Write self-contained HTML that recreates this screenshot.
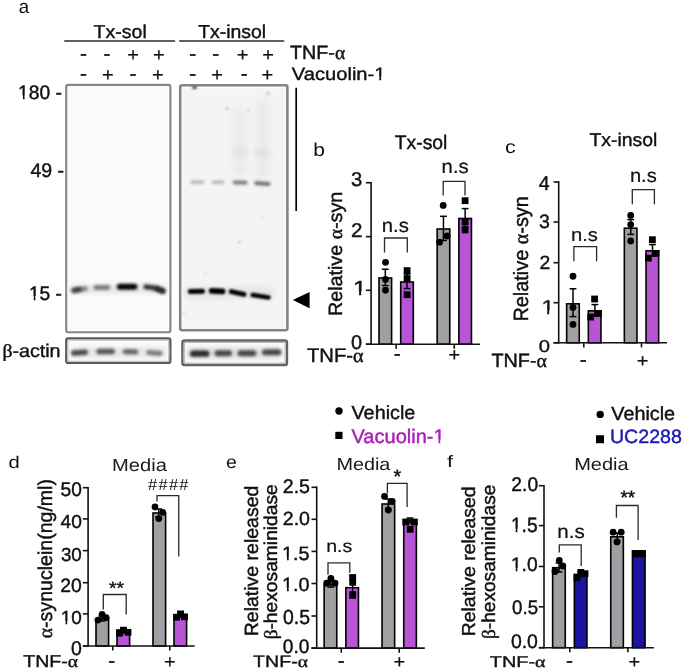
<!DOCTYPE html>
<html><head><meta charset="utf-8"><title>Figure</title>
<style>
html,body{margin:0;padding:0;background:#fff;}
svg{display:block;}
text{font-family:"Liberation Sans",Arial,sans-serif;text-rendering:geometricPrecision;}
</style></head>
<body>
<svg width="685" height="672" viewBox="0 0 685 672">
<rect width="685" height="672" fill="#fff"/>
<line x1="64.30" y1="41.00" x2="175.10" y2="41.00" stroke="#2a2a2a" stroke-width="1.70"/>
<line x1="179.30" y1="41.00" x2="284.20" y2="41.00" stroke="#2a2a2a" stroke-width="1.70"/>

<defs>
<filter id="bl1" filterUnits="userSpaceOnUse" x="0" y="0" width="685" height="672"><feGaussianBlur stdDeviation="1.1"/></filter>
<filter id="bl15" filterUnits="userSpaceOnUse" x="0" y="0" width="685" height="672"><feGaussianBlur stdDeviation="1.5"/></filter>
<filter id="bl17" filterUnits="userSpaceOnUse" x="0" y="0" width="685" height="672"><feGaussianBlur stdDeviation="1.7"/></filter>
<filter id="bl2" filterUnits="userSpaceOnUse" x="0" y="0" width="685" height="672"><feGaussianBlur stdDeviation="2.5"/></filter>
<filter id="bl3" filterUnits="userSpaceOnUse" x="0" y="0" width="685" height="672"><feGaussianBlur stdDeviation="4"/></filter>
</defs>
<rect x="66.2" y="84.9" width="104.2" height="247.3" rx="2" fill="#fbfbfb" stroke="#858585" stroke-width="2.1"/>
<rect x="180.2" y="85.3" width="107.2" height="245.0" rx="2" fill="#f4f4f4" stroke="#858585" stroke-width="2.6"/>
<rect x="182.6" y="87.7" width="102.4" height="240.2" fill="none" stroke="#fbfbfb" stroke-width="1.4"/>
<rect x="66.2" y="338.4" width="104.2" height="24.6" rx="2" fill="#fcfcfc" stroke="#5a5a5a" stroke-width="2.2"/>
<rect x="67.9" y="340.1" width="100.8" height="21.2" fill="none" stroke="#b5b5b5" stroke-width="1"/>
<rect x="182.4" y="340.5" width="104.6" height="24.5" rx="2" fill="#fcfcfc" stroke="#636363" stroke-width="2.4"/>
<rect x="184.3" y="342.4" width="100.8" height="20.7" fill="none" stroke="#b0b0b0" stroke-width="1"/>

<rect x="69.0" y="284.5" width="99.0" height="9.0" rx="4.5" fill="#e6e6e6" fill-opacity="1.00" filter="url(#bl2)"/>
<path d="M73.6 290.6 Q79.5 289.6 85.4 288.6" fill="none" stroke="#8a8a8a" stroke-opacity="1.00" stroke-width="5.2" stroke-linecap="round" filter="url(#bl15)"/>
<path d="M74.2 290.2 Q77.0 289.8 79.8 289.4" fill="none" stroke="#3a3a3a" stroke-opacity="1.00" stroke-width="4.4" stroke-linecap="round" filter="url(#bl15)"/>
<path d="M95.9 287.6 Q101.9 287.5 107.9 287.4" fill="none" stroke="#7c7c7c" stroke-opacity="1.00" stroke-width="5.0" stroke-linecap="round" filter="url(#bl15)"/>
<path d="M119.8 286.8 Q127.1 286.8 134.4 286.8" fill="none" stroke="#000" stroke-opacity="1.00" stroke-width="6.0" stroke-linecap="round" filter="url(#bl15)"/>
<path d="M145.9 286.8 Q154.3 287.3 162.7 291.0" fill="none" stroke="#333" stroke-opacity="1.00" stroke-width="5.0" stroke-linecap="round" filter="url(#bl15)"/>
<path d="M157.3 288.5 Q160.1 289.8 162.9 291.0" fill="none" stroke="#2a2a2a" stroke-opacity="1.00" stroke-width="4.6" stroke-linecap="round" filter="url(#bl15)"/>
<rect x="184.0" y="287.5" width="91.0" height="11.0" rx="5.5" fill="#e3e3e3" fill-opacity="1.00" filter="url(#bl2)"/>
<path d="M190.3 291.6 Q196.4 291.4 202.5 291.2" fill="none" stroke="#000" stroke-opacity="1.00" stroke-width="5.0" stroke-linecap="round" filter="url(#bl1)"/>
<path d="M211.6 290.9 Q217.1 291.1 222.6 291.4" fill="none" stroke="#000" stroke-opacity="1.00" stroke-width="5.6" stroke-linecap="round" filter="url(#bl1)"/>
<path d="M231.3 291.6 Q237.6 293.0 243.9 294.4" fill="none" stroke="#000" stroke-opacity="1.00" stroke-width="5.0" stroke-linecap="round" filter="url(#bl1)"/>
<path d="M252.7 295.0 Q260.6 296.2 268.5 297.4" fill="none" stroke="#000" stroke-opacity="1.00" stroke-width="4.6" stroke-linecap="round" filter="url(#bl1)"/>
<path d="M192.0 182.1 Q197.4 182.1 202.9 182.1" fill="none" stroke="#b0b0b0" stroke-opacity="1.00" stroke-width="3.4" stroke-linecap="round" filter="url(#bl15)"/>
<path d="M213.4 182.1 Q218.1 182.1 222.9 182.1" fill="none" stroke="#b0b0b0" stroke-opacity="1.00" stroke-width="3.4" stroke-linecap="round" filter="url(#bl15)"/>
<path d="M234.4 182.4 Q240.1 182.5 245.8 182.6" fill="none" stroke="#707070" stroke-opacity="1.00" stroke-width="3.6" stroke-linecap="round" filter="url(#bl15)"/>
<path d="M256.3 183.0 Q262.5 183.4 268.6 183.8" fill="none" stroke="#5c5c5c" stroke-opacity="1.00" stroke-width="3.8" stroke-linecap="round" filter="url(#bl15)"/>
<rect x="234" y="110" width="12" height="65" fill="#e9e9e9" filter="url(#bl3)"/>
<rect x="256" y="100" width="13" height="78" fill="#e8e8e8" filter="url(#bl3)"/>
<path d="M235.0 152.0 Q240.0 152.0 245.0 152.0" fill="none" stroke="#dcdcdc" stroke-opacity="1.00" stroke-width="4.0" stroke-linecap="round" filter="url(#bl2)"/>
<path d="M257.0 153.0 Q262.5 153.0 268.0 153.0" fill="none" stroke="#d8d8d8" stroke-opacity="1.00" stroke-width="4.0" stroke-linecap="round" filter="url(#bl2)"/>
<circle cx="227.0" cy="108.7" r="1.6" fill="#c8c8c8" filter="url(#bl1)"/>
<circle cx="248.4" cy="110.8" r="1.5" fill="#d0d0d0" filter="url(#bl1)"/>
<circle cx="267.8" cy="93.4" r="2.0" fill="#cfcfcf" filter="url(#bl1)"/>
<circle cx="239.3" cy="242.3" r="1.4" fill="#c8c8c8" filter="url(#bl1)"/>
<circle cx="205.4" cy="274.3" r="1.2" fill="#d8d8d8" filter="url(#bl1)"/>
<circle cx="183.5" cy="313.0" r="1.2" fill="#d0d0d0" filter="url(#bl1)"/>
<circle cx="262.0" cy="218.0" r="1.3" fill="#dcdcdc" filter="url(#bl1)"/>
<ellipse cx="194.5" cy="87.6" rx="2.6" ry="1.4" fill="#333" filter="url(#bl1)"/>
<rect x="70.0" y="346.8" width="97.0" height="11.0" rx="5.5" fill="#e6e6e6" fill-opacity="1.00" filter="url(#bl2)"/>
<path d="M73.7 353.0 Q79.5 352.6 85.3 352.2" fill="none" stroke="#4a4a4a" stroke-opacity="1.00" stroke-width="5.4" stroke-linecap="round" filter="url(#bl17)"/>
<path d="M99.2 351.5 Q105.7 351.5 112.2 351.5" fill="none" stroke="#555" stroke-opacity="1.00" stroke-width="5.6" stroke-linecap="round" filter="url(#bl17)"/>
<path d="M125.3 351.6 Q130.5 351.7 135.7 351.8" fill="none" stroke="#666" stroke-opacity="1.00" stroke-width="5.2" stroke-linecap="round" filter="url(#bl17)"/>
<path d="M148.9 352.4 Q154.4 353.0 160.0 353.6" fill="none" stroke="#7a7a7a" stroke-opacity="1.00" stroke-width="5.0" stroke-linecap="round" filter="url(#bl17)"/>
<rect x="186.0" y="347.0" width="97.0" height="12.0" rx="6.0" fill="#e0e0e0" fill-opacity="1.00" filter="url(#bl2)"/>
<path d="M193.1 353.7 Q199.7 353.7 206.3 353.7" fill="none" stroke="#262626" stroke-opacity="1.00" stroke-width="6.2" stroke-linecap="round" filter="url(#bl17)"/>
<path d="M217.6 353.2 Q223.3 353.2 229.0 353.2" fill="none" stroke="#474747" stroke-opacity="1.00" stroke-width="6.0" stroke-linecap="round" filter="url(#bl17)"/>
<path d="M240.5 353.2 Q246.9 353.2 253.4 353.2" fill="none" stroke="#474747" stroke-opacity="1.00" stroke-width="6.0" stroke-linecap="round" filter="url(#bl17)"/>
<path d="M265.0 352.3 Q271.7 352.3 278.4 352.3" fill="none" stroke="#474747" stroke-opacity="1.00" stroke-width="6.0" stroke-linecap="round" filter="url(#bl17)"/>
<line x1="296.20" y1="87.80" x2="296.20" y2="211.00" stroke="#000" stroke-width="1.70"/>
<polygon points="292.8,300.1 309.6,291.9 309.6,308.3" fill="#000"/>
<rect x="379.00" y="278.00" width="12.6" height="66.20" fill="#a19fa4" stroke="#000" stroke-width="1.6"/>
<rect x="400.70" y="282.00" width="12.6" height="62.20" fill="#b854d6" stroke="#000" stroke-width="1.6"/>
<rect x="437.15" y="229.00" width="12.6" height="115.20" fill="#a19fa4" stroke="#000" stroke-width="1.6"/>
<rect x="458.85" y="218.50" width="12.6" height="125.70" fill="#b854d6" stroke="#000" stroke-width="1.6"/>
<line x1="385.30" y1="269.20" x2="385.30" y2="285.60" stroke="#000" stroke-width="1.50"/>
<line x1="381.90" y1="269.20" x2="388.70" y2="269.20" stroke="#000" stroke-width="1.50"/>
<line x1="381.90" y1="285.60" x2="388.70" y2="285.60" stroke="#000" stroke-width="1.50"/>
<line x1="407.00" y1="274.00" x2="407.00" y2="288.60" stroke="#000" stroke-width="1.50"/>
<line x1="403.60" y1="274.00" x2="410.40" y2="274.00" stroke="#000" stroke-width="1.50"/>
<line x1="403.60" y1="288.60" x2="410.40" y2="288.60" stroke="#000" stroke-width="1.50"/>
<line x1="443.45" y1="216.30" x2="443.45" y2="240.50" stroke="#000" stroke-width="1.50"/>
<line x1="440.05" y1="216.30" x2="446.85" y2="216.30" stroke="#000" stroke-width="1.50"/>
<line x1="440.05" y1="240.50" x2="446.85" y2="240.50" stroke="#000" stroke-width="1.50"/>
<line x1="465.15" y1="208.60" x2="465.15" y2="227.00" stroke="#000" stroke-width="1.50"/>
<line x1="461.75" y1="208.60" x2="468.55" y2="208.60" stroke="#000" stroke-width="1.50"/>
<line x1="461.75" y1="227.00" x2="468.55" y2="227.00" stroke="#000" stroke-width="1.50"/>
<circle cx="385.50" cy="262.30" r="3.4" fill="#000"/>
<circle cx="385.50" cy="279.40" r="3.4" fill="#000"/>
<circle cx="385.50" cy="290.20" r="3.4" fill="#000"/>
<circle cx="443.20" cy="205.40" r="3.4" fill="#000"/>
<circle cx="447.10" cy="236.00" r="3.4" fill="#000"/>
<circle cx="439.60" cy="242.20" r="3.4" fill="#000"/>
<rect x="403.70" y="267.20" width="6.8" height="6.8" fill="#000"/>
<rect x="403.70" y="275.10" width="6.8" height="6.8" fill="#000"/>
<rect x="403.70" y="291.30" width="6.8" height="6.8" fill="#000"/>
<rect x="461.70" y="197.30" width="6.8" height="6.8" fill="#000"/>
<rect x="461.70" y="218.50" width="6.8" height="6.8" fill="#000"/>
<rect x="461.70" y="226.50" width="6.8" height="6.8" fill="#000"/>
<line x1="371.10" y1="181.90" x2="371.10" y2="345.00" stroke="#111" stroke-width="1.60"/>
<line x1="365.90" y1="344.20" x2="480.00" y2="344.20" stroke="#111" stroke-width="1.60"/>
<line x1="365.90" y1="182.70" x2="371.10" y2="182.70" stroke="#111" stroke-width="1.60"/>
<line x1="365.90" y1="236.65" x2="371.10" y2="236.65" stroke="#111" stroke-width="1.60"/>
<line x1="365.90" y1="290.30" x2="371.10" y2="290.30" stroke="#111" stroke-width="1.60"/>
<line x1="365.90" y1="344.20" x2="371.10" y2="344.20" stroke="#111" stroke-width="1.60"/>
<line x1="396.15" y1="344.20" x2="396.15" y2="348.80" stroke="#111" stroke-width="1.60"/>
<line x1="454.30" y1="344.20" x2="454.30" y2="348.80" stroke="#111" stroke-width="1.60"/>
<path d="M384.50 252.50 V238.00 H407.30 V252.50" fill="none" stroke="#2a2a2a" stroke-width="1.3"/>
<path d="M443.20 195.50 V181.40 H465.00 V195.50" fill="none" stroke="#2a2a2a" stroke-width="1.3"/>
<rect x="566.65" y="303.80" width="12.6" height="39.00" fill="#a19fa4" stroke="#000" stroke-width="1.6"/>
<rect x="588.35" y="310.80" width="12.6" height="32.00" fill="#b854d6" stroke="#000" stroke-width="1.6"/>
<rect x="624.35" y="228.20" width="12.6" height="114.60" fill="#a19fa4" stroke="#000" stroke-width="1.6"/>
<rect x="646.05" y="250.80" width="12.6" height="92.00" fill="#b854d6" stroke="#000" stroke-width="1.6"/>
<line x1="573.00" y1="288.75" x2="573.00" y2="316.60" stroke="#000" stroke-width="1.50"/>
<line x1="569.60" y1="288.75" x2="576.40" y2="288.75" stroke="#000" stroke-width="1.50"/>
<line x1="569.60" y1="316.60" x2="576.40" y2="316.60" stroke="#000" stroke-width="1.50"/>
<line x1="594.90" y1="304.60" x2="594.90" y2="316.00" stroke="#000" stroke-width="1.50"/>
<line x1="591.50" y1="304.60" x2="598.30" y2="304.60" stroke="#000" stroke-width="1.50"/>
<line x1="591.50" y1="316.00" x2="598.30" y2="316.00" stroke="#000" stroke-width="1.50"/>
<line x1="630.75" y1="219.60" x2="630.75" y2="234.40" stroke="#000" stroke-width="1.50"/>
<line x1="627.35" y1="219.60" x2="634.15" y2="219.60" stroke="#000" stroke-width="1.50"/>
<line x1="627.35" y1="234.40" x2="634.15" y2="234.40" stroke="#000" stroke-width="1.50"/>
<line x1="652.50" y1="244.60" x2="652.50" y2="256.00" stroke="#000" stroke-width="1.50"/>
<line x1="649.10" y1="244.60" x2="655.90" y2="244.60" stroke="#000" stroke-width="1.50"/>
<line x1="649.10" y1="256.00" x2="655.90" y2="256.00" stroke="#000" stroke-width="1.50"/>
<circle cx="573.00" cy="276.25" r="3.4" fill="#000"/>
<circle cx="573.00" cy="307.50" r="3.4" fill="#000"/>
<circle cx="573.00" cy="324.40" r="3.4" fill="#000"/>
<circle cx="630.70" cy="215.40" r="3.4" fill="#000"/>
<circle cx="630.70" cy="224.60" r="3.4" fill="#000"/>
<circle cx="630.70" cy="240.90" r="3.4" fill="#000"/>
<rect x="591.20" y="295.60" width="6.8" height="6.8" fill="#000"/>
<rect x="587.30" y="313.70" width="6.8" height="6.8" fill="#000"/>
<rect x="595.10" y="310.00" width="6.8" height="6.8" fill="#000"/>
<rect x="649.00" y="236.30" width="6.8" height="6.8" fill="#000"/>
<rect x="645.00" y="254.70" width="6.8" height="6.8" fill="#000"/>
<rect x="652.60" y="250.00" width="6.8" height="6.8" fill="#000"/>
<line x1="558.70" y1="181.20" x2="558.70" y2="343.60" stroke="#111" stroke-width="1.60"/>
<line x1="553.50" y1="342.80" x2="667.00" y2="342.80" stroke="#111" stroke-width="1.60"/>
<line x1="553.50" y1="182.00" x2="558.70" y2="182.00" stroke="#111" stroke-width="1.60"/>
<line x1="553.50" y1="222.05" x2="558.70" y2="222.05" stroke="#111" stroke-width="1.60"/>
<line x1="553.50" y1="262.70" x2="558.70" y2="262.70" stroke="#111" stroke-width="1.60"/>
<line x1="553.50" y1="302.70" x2="558.70" y2="302.70" stroke="#111" stroke-width="1.60"/>
<line x1="553.50" y1="342.80" x2="558.70" y2="342.80" stroke="#111" stroke-width="1.60"/>
<line x1="583.80" y1="342.80" x2="583.80" y2="347.40" stroke="#111" stroke-width="1.60"/>
<line x1="641.50" y1="342.80" x2="641.50" y2="347.40" stroke="#111" stroke-width="1.60"/>
<path d="M573.90 261.30 V246.60 H596.60 V261.30" fill="none" stroke="#2a2a2a" stroke-width="1.3"/>
<path d="M632.30 204.30 V189.70 H654.40 V204.30" fill="none" stroke="#2a2a2a" stroke-width="1.3"/>
<rect x="96.00" y="618.80" width="12.6" height="27.20" fill="#a19fa4" stroke="#000" stroke-width="1.6"/>
<rect x="117.00" y="630.00" width="12.6" height="16.00" fill="#b854d6" stroke="#000" stroke-width="1.6"/>
<rect x="153.00" y="513.00" width="12.6" height="133.00" fill="#a19fa4" stroke="#000" stroke-width="1.6"/>
<rect x="174.00" y="615.00" width="12.6" height="31.00" fill="#b854d6" stroke="#000" stroke-width="1.6"/>
<line x1="102.00" y1="616.00" x2="102.00" y2="621.00" stroke="#000" stroke-width="1.50"/>
<line x1="98.60" y1="616.00" x2="105.40" y2="616.00" stroke="#000" stroke-width="1.50"/>
<line x1="98.60" y1="621.00" x2="105.40" y2="621.00" stroke="#000" stroke-width="1.50"/>
<line x1="123.40" y1="627.50" x2="123.40" y2="632.00" stroke="#000" stroke-width="1.50"/>
<line x1="120.00" y1="627.50" x2="126.80" y2="627.50" stroke="#000" stroke-width="1.50"/>
<line x1="120.00" y1="632.00" x2="126.80" y2="632.00" stroke="#000" stroke-width="1.50"/>
<line x1="158.70" y1="509.00" x2="158.70" y2="517.00" stroke="#000" stroke-width="1.50"/>
<line x1="155.30" y1="509.00" x2="162.10" y2="509.00" stroke="#000" stroke-width="1.50"/>
<line x1="155.30" y1="517.00" x2="162.10" y2="517.00" stroke="#000" stroke-width="1.50"/>
<line x1="180.40" y1="612.00" x2="180.40" y2="617.00" stroke="#000" stroke-width="1.50"/>
<line x1="177.00" y1="612.00" x2="183.80" y2="612.00" stroke="#000" stroke-width="1.50"/>
<line x1="177.00" y1="617.00" x2="183.80" y2="617.00" stroke="#000" stroke-width="1.50"/>
<circle cx="97.90" cy="620.10" r="3.4" fill="#000"/>
<circle cx="102.10" cy="614.40" r="3.4" fill="#000"/>
<circle cx="106.10" cy="617.60" r="3.4" fill="#000"/>
<circle cx="155.00" cy="507.00" r="3.4" fill="#000"/>
<circle cx="162.70" cy="512.30" r="3.4" fill="#000"/>
<circle cx="158.75" cy="518.60" r="3.4" fill="#000"/>
<rect x="116.10" y="629.80" width="6.8" height="6.8" fill="#000"/>
<rect x="120.10" y="627.00" width="6.8" height="6.8" fill="#000"/>
<rect x="124.60" y="628.90" width="6.8" height="6.8" fill="#000"/>
<rect x="173.20" y="613.80" width="6.8" height="6.8" fill="#000"/>
<rect x="177.20" y="610.50" width="6.8" height="6.8" fill="#000"/>
<rect x="181.10" y="613.40" width="6.8" height="6.8" fill="#000"/>
<line x1="88.10" y1="486.90" x2="88.10" y2="646.80" stroke="#111" stroke-width="1.60"/>
<line x1="82.90" y1="646.00" x2="194.80" y2="646.00" stroke="#111" stroke-width="1.60"/>
<line x1="82.90" y1="487.70" x2="88.10" y2="487.70" stroke="#111" stroke-width="1.60"/>
<line x1="82.90" y1="518.90" x2="88.10" y2="518.90" stroke="#111" stroke-width="1.60"/>
<line x1="82.90" y1="550.60" x2="88.10" y2="550.60" stroke="#111" stroke-width="1.60"/>
<line x1="82.90" y1="582.70" x2="88.10" y2="582.70" stroke="#111" stroke-width="1.60"/>
<line x1="82.90" y1="613.90" x2="88.10" y2="613.90" stroke="#111" stroke-width="1.60"/>
<line x1="82.90" y1="646.00" x2="88.10" y2="646.00" stroke="#111" stroke-width="1.60"/>
<line x1="112.80" y1="646.00" x2="112.80" y2="650.60" stroke="#111" stroke-width="1.60"/>
<line x1="169.80" y1="646.00" x2="169.80" y2="650.60" stroke="#111" stroke-width="1.60"/>
<path d="M103.30 609.40 V594.50 H126.20 V614.40" fill="none" stroke="#2a2a2a" stroke-width="1.3"/>
<path d="M157.00 501.60 V495.70 H178.75 V556.40" fill="none" stroke="#2a2a2a" stroke-width="1.3"/>
<rect x="324.15" y="584.50" width="12.6" height="63.60" fill="#a19fa4" stroke="#000" stroke-width="1.6"/>
<rect x="345.85" y="587.70" width="12.6" height="60.40" fill="#b854d6" stroke="#000" stroke-width="1.6"/>
<rect x="382.05" y="504.00" width="12.6" height="144.10" fill="#a19fa4" stroke="#000" stroke-width="1.6"/>
<rect x="403.75" y="520.30" width="12.6" height="127.80" fill="#b854d6" stroke="#000" stroke-width="1.6"/>
<line x1="330.80" y1="581.00" x2="330.80" y2="587.00" stroke="#000" stroke-width="1.50"/>
<line x1="327.40" y1="581.00" x2="334.20" y2="581.00" stroke="#000" stroke-width="1.50"/>
<line x1="327.40" y1="587.00" x2="334.20" y2="587.00" stroke="#000" stroke-width="1.50"/>
<line x1="352.60" y1="576.00" x2="352.60" y2="598.00" stroke="#000" stroke-width="1.50"/>
<line x1="349.20" y1="576.00" x2="356.00" y2="576.00" stroke="#000" stroke-width="1.50"/>
<line x1="349.20" y1="598.00" x2="356.00" y2="598.00" stroke="#000" stroke-width="1.50"/>
<line x1="388.30" y1="499.00" x2="388.30" y2="509.00" stroke="#000" stroke-width="1.50"/>
<line x1="384.90" y1="499.00" x2="391.70" y2="499.00" stroke="#000" stroke-width="1.50"/>
<line x1="384.90" y1="509.00" x2="391.70" y2="509.00" stroke="#000" stroke-width="1.50"/>
<line x1="410.00" y1="518.00" x2="410.00" y2="523.00" stroke="#000" stroke-width="1.50"/>
<line x1="406.60" y1="518.00" x2="413.40" y2="518.00" stroke="#000" stroke-width="1.50"/>
<line x1="406.60" y1="523.00" x2="413.40" y2="523.00" stroke="#000" stroke-width="1.50"/>
<circle cx="326.70" cy="583.20" r="3.4" fill="#000"/>
<circle cx="330.90" cy="578.50" r="3.4" fill="#000"/>
<circle cx="335.00" cy="583.20" r="3.4" fill="#000"/>
<circle cx="384.50" cy="496.40" r="3.4" fill="#000"/>
<circle cx="392.20" cy="501.30" r="3.4" fill="#000"/>
<circle cx="388.30" cy="510.00" r="3.4" fill="#000"/>
<rect x="349.30" y="574.10" width="6.8" height="6.8" fill="#000"/>
<rect x="349.30" y="578.90" width="6.8" height="6.8" fill="#000"/>
<rect x="349.30" y="591.20" width="6.8" height="6.8" fill="#000"/>
<rect x="402.30" y="518.60" width="6.8" height="6.8" fill="#000"/>
<rect x="411.00" y="518.60" width="6.8" height="6.8" fill="#000"/>
<rect x="406.80" y="525.90" width="6.8" height="6.8" fill="#000"/>
<line x1="316.70" y1="486.50" x2="316.70" y2="648.90" stroke="#111" stroke-width="1.60"/>
<line x1="311.50" y1="648.10" x2="424.80" y2="648.10" stroke="#111" stroke-width="1.60"/>
<line x1="311.50" y1="487.30" x2="316.70" y2="487.30" stroke="#111" stroke-width="1.60"/>
<line x1="311.50" y1="519.30" x2="316.70" y2="519.30" stroke="#111" stroke-width="1.60"/>
<line x1="311.50" y1="551.40" x2="316.70" y2="551.40" stroke="#111" stroke-width="1.60"/>
<line x1="311.50" y1="583.50" x2="316.70" y2="583.50" stroke="#111" stroke-width="1.60"/>
<line x1="311.50" y1="616.00" x2="316.70" y2="616.00" stroke="#111" stroke-width="1.60"/>
<line x1="311.50" y1="648.10" x2="316.70" y2="648.10" stroke="#111" stroke-width="1.60"/>
<line x1="341.30" y1="648.10" x2="341.30" y2="652.70" stroke="#111" stroke-width="1.60"/>
<line x1="399.20" y1="648.10" x2="399.20" y2="652.70" stroke="#111" stroke-width="1.60"/>
<path d="M328.00 574.70 V562.90 H349.80 V572.80" fill="none" stroke="#2a2a2a" stroke-width="1.3"/>
<path d="M387.40 493.50 V483.30 H407.10 V507.00" fill="none" stroke="#2a2a2a" stroke-width="1.3"/>
<rect x="552.65" y="567.70" width="12.6" height="80.00" fill="#a19fa4" stroke="#000" stroke-width="1.6"/>
<rect x="574.35" y="574.40" width="12.6" height="73.30" fill="#1a14a0" stroke="#000" stroke-width="1.6"/>
<rect x="610.75" y="536.80" width="12.6" height="110.90" fill="#a19fa4" stroke="#000" stroke-width="1.6"/>
<rect x="632.45" y="550.90" width="12.6" height="96.80" fill="#1a14a0" stroke="#000" stroke-width="1.6"/>
<line x1="559.00" y1="563.00" x2="559.00" y2="572.00" stroke="#000" stroke-width="1.50"/>
<line x1="555.60" y1="563.00" x2="562.40" y2="563.00" stroke="#000" stroke-width="1.50"/>
<line x1="555.60" y1="572.00" x2="562.40" y2="572.00" stroke="#000" stroke-width="1.50"/>
<line x1="580.80" y1="572.00" x2="580.80" y2="576.00" stroke="#000" stroke-width="1.50"/>
<line x1="577.40" y1="572.00" x2="584.20" y2="572.00" stroke="#000" stroke-width="1.50"/>
<line x1="577.40" y1="576.00" x2="584.20" y2="576.00" stroke="#000" stroke-width="1.50"/>
<line x1="617.30" y1="533.00" x2="617.30" y2="541.00" stroke="#000" stroke-width="1.50"/>
<line x1="613.90" y1="533.00" x2="620.70" y2="533.00" stroke="#000" stroke-width="1.50"/>
<line x1="613.90" y1="541.00" x2="620.70" y2="541.00" stroke="#000" stroke-width="1.50"/>
<line x1="639.20" y1="551.50" x2="639.20" y2="554.00" stroke="#000" stroke-width="1.50"/>
<line x1="635.80" y1="551.50" x2="642.60" y2="551.50" stroke="#000" stroke-width="1.50"/>
<line x1="635.80" y1="554.00" x2="642.60" y2="554.00" stroke="#000" stroke-width="1.50"/>
<circle cx="559.30" cy="560.30" r="3.4" fill="#000"/>
<circle cx="562.80" cy="566.00" r="3.4" fill="#000"/>
<circle cx="555.00" cy="571.50" r="3.4" fill="#000"/>
<circle cx="613.10" cy="532.20" r="3.4" fill="#000"/>
<circle cx="621.20" cy="532.20" r="3.4" fill="#000"/>
<circle cx="617.00" cy="541.90" r="3.4" fill="#000"/>
<rect x="573.60" y="574.10" width="6.8" height="6.8" fill="#000"/>
<rect x="577.40" y="569.00" width="6.8" height="6.8" fill="#000"/>
<rect x="581.60" y="570.30" width="6.8" height="6.8" fill="#000"/>
<rect x="632.20" y="550.50" width="6.8" height="6.8" fill="#000"/>
<rect x="635.80" y="550.20" width="6.8" height="6.8" fill="#000"/>
<rect x="639.20" y="550.50" width="6.8" height="6.8" fill="#000"/>
<line x1="544.00" y1="484.90" x2="544.00" y2="648.50" stroke="#111" stroke-width="1.60"/>
<line x1="538.80" y1="647.70" x2="653.90" y2="647.70" stroke="#111" stroke-width="1.60"/>
<line x1="538.80" y1="485.70" x2="544.00" y2="485.70" stroke="#111" stroke-width="1.60"/>
<line x1="538.80" y1="525.60" x2="544.00" y2="525.60" stroke="#111" stroke-width="1.60"/>
<line x1="538.80" y1="566.50" x2="544.00" y2="566.50" stroke="#111" stroke-width="1.60"/>
<line x1="538.80" y1="606.80" x2="544.00" y2="606.80" stroke="#111" stroke-width="1.60"/>
<line x1="538.80" y1="647.70" x2="544.00" y2="647.70" stroke="#111" stroke-width="1.60"/>
<line x1="569.80" y1="647.70" x2="569.80" y2="652.30" stroke="#111" stroke-width="1.60"/>
<line x1="627.90" y1="647.70" x2="627.90" y2="652.30" stroke="#111" stroke-width="1.60"/>
<path d="M559.30 552.50 V544.80 H581.20 V566.00" fill="none" stroke="#2a2a2a" stroke-width="1.3"/>
<path d="M616.40 517.70 V505.50 H638.10 V540.00" fill="none" stroke="#2a2a2a" stroke-width="1.3"/>
<circle cx="339" cy="411" r="3.7" fill="#000"/>
<rect x="335.3" y="431.8" width="7.2" height="7.2" fill="#000"/>
<circle cx="600.2" cy="414.4" r="3.7" fill="#000"/>
<rect x="596" y="435.2" width="8" height="8" fill="#000"/>
<text font-size="100" fill="#111" stroke="#111" stroke-width="0.00" transform="matrix(0.1865 0.0000 0.0000 0.1909 18.8538 12.9091)">a</text>
<text font-size="100" fill="#111" stroke="#111" stroke-width="2.20" transform="matrix(0.1955 0.0000 0.0000 0.1863 93.6091 37.9137)">Tx-sol</text>
<text font-size="100" fill="#111" stroke="#111" stroke-width="2.20" transform="matrix(0.1941 0.0000 0.0000 0.1877 198.2117 37.8123)">Tx-insol</text>
<text font-size="100" fill="#111" stroke="#111" stroke-width="2.16" transform="matrix(0.1967 0.0000 0.0000 0.1914 290.1065 58.6086)">TNF-<tspan font-family="Liberation Serif">&#945;</tspan></text>
<g transform="matrix(0.2014 0.0000 0.0000 0.1781 291.7986 79.8219)"><text font-size="100" fill="#111" stroke="#111" stroke-width="2.21">Vacuolin-1</text><path fill="#fff" d="M413.09 -17.47H434.62V9.00H413.09ZM443.45 -17.47H464.20V9.00H443.45Z"/></g>
<g transform="matrix(0.1925 0.0000 0.0000 0.1958 18.0748 98.7042)"><text font-size="100" fill="#111" stroke="#111" stroke-width="2.16">180 -</text><path fill="#fff" d="M3.62 -17.47H25.15V9.00H3.62ZM33.98 -17.47H54.73V9.00H33.98Z"/></g>
<text font-size="100" fill="#111" stroke="#111" stroke-width="2.14" transform="matrix(0.1952 0.0000 0.0000 0.1979 30.4096 176.5521)">49 -</text>
<g transform="matrix(0.1915 0.0000 0.0000 0.1950 28.8854 299.5050)"><text font-size="100" fill="#111" stroke="#111" stroke-width="2.17">15 -</text><path fill="#fff" d="M3.62 -17.47H25.15V9.00H3.62ZM33.98 -17.47H54.73V9.00H33.98Z"/></g>
<text font-size="100" fill="#111" stroke="#111" stroke-width="2.21" transform="matrix(0.1968 0.0000 0.0000 0.1839 2.4191 356.9387)"><tspan font-family="Liberation Serif">&#946;</tspan>-actin</text>
<text font-size="100" fill="#111" stroke="#111" stroke-width="0.44" transform="matrix(0.2240 0.0000 0.0000 0.2286 79.8040 61.0571)">-</text>
<text font-size="100" fill="#111" stroke="#111" stroke-width="0.44" transform="matrix(0.2240 0.0000 0.0000 0.2286 103.3040 61.0571)">-</text>
<text font-size="100" fill="#111" stroke="#111" stroke-width="1.03" transform="matrix(0.2000 0.0000 0.0000 0.1878 127.3500 60.7898)">+</text>
<text font-size="100" fill="#111" stroke="#111" stroke-width="1.03" transform="matrix(0.2000 0.0000 0.0000 0.1878 152.9000 60.7898)">+</text>
<text font-size="100" fill="#111" stroke="#111" stroke-width="0.44" transform="matrix(0.2240 0.0000 0.0000 0.2286 189.0040 61.2571)">-</text>
<text font-size="100" fill="#111" stroke="#111" stroke-width="0.44" transform="matrix(0.2240 0.0000 0.0000 0.2286 212.1040 61.2571)">-</text>
<text font-size="100" fill="#111" stroke="#111" stroke-width="1.03" transform="matrix(0.2000 0.0000 0.0000 0.1878 236.7000 60.9898)">+</text>
<text font-size="100" fill="#111" stroke="#111" stroke-width="1.03" transform="matrix(0.2000 0.0000 0.0000 0.1878 262.3000 60.9898)">+</text>
<text font-size="100" fill="#111" stroke="#111" stroke-width="0.44" transform="matrix(0.2240 0.0000 0.0000 0.2286 79.8040 81.1571)">-</text>
<text font-size="100" fill="#111" stroke="#111" stroke-width="1.03" transform="matrix(0.2000 0.0000 0.0000 0.1878 102.1000 81.1898)">+</text>
<text font-size="100" fill="#111" stroke="#111" stroke-width="0.44" transform="matrix(0.2240 0.0000 0.0000 0.2286 129.2040 81.1571)">-</text>
<text font-size="100" fill="#111" stroke="#111" stroke-width="1.03" transform="matrix(0.2000 0.0000 0.0000 0.1878 151.9500 81.1898)">+</text>
<text font-size="100" fill="#111" stroke="#111" stroke-width="0.44" transform="matrix(0.2240 0.0000 0.0000 0.2286 189.0040 81.2571)">-</text>
<text font-size="100" fill="#111" stroke="#111" stroke-width="1.03" transform="matrix(0.2000 0.0000 0.0000 0.1878 211.3000 81.2898)">+</text>
<text font-size="100" fill="#111" stroke="#111" stroke-width="0.44" transform="matrix(0.2240 0.0000 0.0000 0.2286 240.4040 81.2571)">-</text>
<text font-size="100" fill="#111" stroke="#111" stroke-width="1.03" transform="matrix(0.2000 0.0000 0.0000 0.1878 261.4000 81.2898)">+</text>
<text font-size="100" fill="#111" stroke="#111" stroke-width="0.00" transform="matrix(0.2111 0.0000 0.0000 0.1863 313.2333 156.2137)">b</text>
<text font-size="100" fill="#111" stroke="#111" stroke-width="2.16" transform="matrix(0.1936 0.0000 0.0000 0.1959 394.7129 149.3041)">Tx-sol</text>
<text font-size="100" fill="#111" stroke="#111" stroke-width="2.10" transform="matrix(0.2021 0.0000 0.0000 0.1986 350.8915 185.9014)">3</text>
<text font-size="100" fill="#111" stroke="#111" stroke-width="2.07" transform="matrix(0.2065 0.0000 0.0000 0.1986 351.0674 236.9000)">2</text>
<g transform="matrix(0.2417 0.0000 0.0000 0.2029 352.9833 294.9000)"><text font-size="100" fill="#111" stroke="#111" stroke-width="1.89">1</text><path fill="#fff" d="M3.62 -17.47H25.15V9.00H3.62ZM33.98 -17.47H54.73V9.00H33.98Z"/></g>
<text font-size="100" fill="#111" stroke="#111" stroke-width="2.12" transform="matrix(0.1979 0.0000 0.0000 0.1986 350.9083 348.6014)">0</text>
<text font-size="100" fill="#111" stroke="#111" stroke-width="2.16" transform="matrix(0.0000 -0.1972 0.1925 0.0000 342.3581 316.0779)">Relative <tspan font-family="Liberation Serif">&#945;</tspan>-syn</text>
<text font-size="100" fill="#111" stroke="#111" stroke-width="1.01" transform="matrix(0.2033 0.0000 0.0000 0.1945 381.6772 231.8055)">n.s</text>
<text font-size="100" fill="#111" stroke="#111" stroke-width="1.01" transform="matrix(0.2033 0.0000 0.0000 0.1945 441.5772 173.2055)">n.s</text>
<text font-size="100" fill="#111" stroke="#111" stroke-width="2.09" transform="matrix(0.2025 0.0000 0.0000 0.1986 306.9949 361.6014)">TNF-<tspan font-family="Liberation Serif">&#945;</tspan></text>
<text font-size="100" fill="#111" stroke="#111" stroke-width="0.44" transform="matrix(0.2240 0.0000 0.0000 0.2286 393.6040 360.8571)">-</text>
<text font-size="100" fill="#111" stroke="#111" stroke-width="1.03" transform="matrix(0.2000 0.0000 0.0000 0.1878 448.4000 361.0898)">+</text>
<text font-size="100" fill="#111" stroke="#111" stroke-width="0.00" transform="matrix(0.2140 0.0000 0.0000 0.1836 505.0442 152.7164)">c</text>
<text font-size="100" fill="#111" stroke="#111" stroke-width="2.22" transform="matrix(0.1941 0.0000 0.0000 0.1849 589.4117 145.9151)">Tx-insol</text>
<text font-size="100" fill="#111" stroke="#111" stroke-width="2.12" transform="matrix(0.1951 0.0000 0.0000 0.2014 538.7098 189.9000)">4</text>
<text font-size="100" fill="#111" stroke="#111" stroke-width="2.16" transform="matrix(0.1957 0.0000 0.0000 0.1930 539.1170 228.4070)">3</text>
<text font-size="100" fill="#111" stroke="#111" stroke-width="2.18" transform="matrix(0.1935 0.0000 0.0000 0.1914 539.5326 269.4000)">2</text>
<g transform="matrix(0.2292 0.0000 0.0000 0.2014 541.4083 313.9000)"><text font-size="100" fill="#111" stroke="#111" stroke-width="1.95">1</text><path fill="#fff" d="M3.62 -17.47H25.15V9.00H3.62ZM33.98 -17.47H54.73V9.00H33.98Z"/></g>
<text font-size="100" fill="#111" stroke="#111" stroke-width="2.24" transform="matrix(0.2021 0.0000 0.0000 0.1732 538.6917 351.7268)">0</text>
<text font-size="100" fill="#111" stroke="#111" stroke-width="2.07" transform="matrix(0.0000 -0.1990 0.2065 0.0000 528.0645 321.5922)">Relative <tspan font-family="Liberation Serif">&#945;</tspan>-syn</text>
<text font-size="100" fill="#111" stroke="#111" stroke-width="1.03" transform="matrix(0.2024 0.0000 0.0000 0.1855 570.9829 240.8145)">n.s</text>
<text font-size="100" fill="#111" stroke="#111" stroke-width="1.02" transform="matrix(0.2008 0.0000 0.0000 0.1927 629.8943 182.0073)">n.s</text>
<text font-size="100" fill="#111" stroke="#111" stroke-width="2.16" transform="matrix(0.1978 0.0000 0.0000 0.1914 491.5043 366.8086)">TNF-<tspan font-family="Liberation Serif">&#945;</tspan></text>
<text font-size="100" fill="#111" stroke="#111" stroke-width="0.44" transform="matrix(0.2240 0.0000 0.0000 0.2286 579.6040 367.2571)">-</text>
<text font-size="100" fill="#111" stroke="#111" stroke-width="1.03" transform="matrix(0.2000 0.0000 0.0000 0.1878 636.8000 366.8898)">+</text>
<text font-size="100" fill="#111" stroke="#111" stroke-width="2.16" transform="matrix(0.1981 0.0000 0.0000 0.1904 351.5019 419.3096)">Vehicle</text>
<g transform="matrix(0.2002 0.0000 0.0000 0.1959 351.4998 442.8041)"><text font-size="100" fill="#a81cb8" stroke="#a81cb8" stroke-width="2.12">Vacuolin-1</text><path fill="#fff" d="M413.09 -17.47H434.62V9.00H413.09ZM443.45 -17.47H464.20V9.00H443.45Z"/></g>
<text font-size="100" fill="#111" stroke="#111" stroke-width="2.16" transform="matrix(0.1978 0.0000 0.0000 0.1904 611.3022 420.4096)">Vehicle</text>
<text font-size="100" fill="#1a1ab8" stroke="#1a1ab8" stroke-width="2.16" transform="matrix(0.1963 0.0000 0.0000 0.1930 609.9294 443.3070)">UC2288</text>
<text font-size="100" fill="#111" stroke="#111" stroke-width="0.00" transform="matrix(0.2022 0.0000 0.0000 0.1712 8.4911 467.5288)">d</text>
<text font-size="100" fill="#1a1a1a" stroke="#1a1a1a" stroke-width="0.00" transform="matrix(0.2015 0.0000 0.0000 0.1753 111.9879 470.5247)">Media</text>
<text font-size="100" fill="#111" stroke="#111" stroke-width="2.16" transform="matrix(0.1913 0.0000 0.0000 0.1972 60.5350 496.2028)">50</text>
<text font-size="100" fill="#111" stroke="#111" stroke-width="2.21" transform="matrix(0.1914 0.0000 0.0000 0.1887 60.5171 527.7113)">40</text>
<text font-size="100" fill="#111" stroke="#111" stroke-width="2.23" transform="matrix(0.1874 0.0000 0.0000 0.1887 60.9505 560.5113)">30</text>
<text font-size="100" fill="#111" stroke="#111" stroke-width="2.18" transform="matrix(0.1931 0.0000 0.0000 0.1930 60.3343 591.5070)">20</text>
<g transform="matrix(0.1887 0.0000 0.0000 0.1887 60.8134 624.4113)"><text font-size="100" fill="#111" stroke="#111" stroke-width="2.23">10</text><path fill="#fff" d="M3.62 -17.47H25.15V9.00H3.62ZM33.98 -17.47H54.73V9.00H33.98Z"/></g>
<text font-size="100" fill="#111" stroke="#111" stroke-width="2.13" transform="matrix(0.1958 0.0000 0.0000 0.1986 71.0167 654.7014)">0</text>
<text font-size="100" fill="#111" stroke="#111" stroke-width="2.13" transform="matrix(0.0000 -0.1956 0.1989 0.0000 51.7226 638.1826)"><tspan font-family="Liberation Serif">&#945;</tspan>-synuclein(ng/ml)</text>
<text font-size="100" fill="#111" stroke="#111" stroke-width="2.28" transform="matrix(0.1919 0.0000 0.0000 0.1771 109.1162 594.0229)">**</text>
<text font-size="100" fill="#111" stroke="#111" stroke-width="0.00" transform="matrix(0.1636 0.0000 0.0000 0.1603 148.1000 489.7000)">#</text>
<text font-size="100" fill="#111" stroke="#111" stroke-width="0.00" transform="matrix(0.1636 0.0000 0.0000 0.1603 158.4000 489.7000)">#</text>
<text font-size="100" fill="#111" stroke="#111" stroke-width="0.00" transform="matrix(0.1636 0.0000 0.0000 0.1603 169.0000 489.7000)">#</text>
<text font-size="100" fill="#111" stroke="#111" stroke-width="0.00" transform="matrix(0.1636 0.0000 0.0000 0.1603 179.3000 489.7000)">#</text>
<text font-size="100" fill="#111" stroke="#111" stroke-width="2.30" transform="matrix(0.1957 0.0000 0.0000 0.1700 23.2087 666.7300)">TNF-<tspan font-family="Liberation Serif">&#945;</tspan></text>
<text font-size="100" fill="#111" stroke="#111" stroke-width="0.44" transform="matrix(0.2240 0.0000 0.0000 0.2286 108.0040 668.4571)">-</text>
<text font-size="100" fill="#111" stroke="#111" stroke-width="1.03" transform="matrix(0.2000 0.0000 0.0000 0.1878 163.9000 668.3898)">+</text>
<text font-size="100" fill="#111" stroke="#111" stroke-width="0.00" transform="matrix(0.1957 0.0000 0.0000 0.1782 226.0170 467.5218)">e</text>
<text font-size="100" fill="#1a1a1a" stroke="#1a1a1a" stroke-width="0.00" transform="matrix(0.1981 0.0000 0.0000 0.1726 336.4152 470.1274)">Media</text>
<text font-size="100" fill="#111" stroke="#111" stroke-width="2.14" transform="matrix(0.1962 0.0000 0.0000 0.1972 282.7192 493.2028)">2.5</text>
<text font-size="100" fill="#111" stroke="#111" stroke-width="2.17" transform="matrix(0.1962 0.0000 0.0000 0.1901 282.7192 525.0099)">2.0</text>
<g transform="matrix(0.1984 0.0000 0.0000 0.1943 282.0160 560.1057)"><text font-size="100" fill="#111" stroke="#111" stroke-width="2.14">1.5</text><path fill="#fff" d="M3.62 -17.47H25.15V9.00H3.62ZM33.98 -17.47H54.73V9.00H33.98Z"/></g>
<g transform="matrix(0.1984 0.0000 0.0000 0.1915 282.0160 590.9085)"><text font-size="100" fill="#111" stroke="#111" stroke-width="2.15">1.0</text><path fill="#fff" d="M3.62 -17.47H25.15V9.00H3.62ZM33.98 -17.47H54.73V9.00H33.98Z"/></g>
<text font-size="100" fill="#111" stroke="#111" stroke-width="2.12" transform="matrix(0.1939 0.0000 0.0000 0.2028 283.0244 624.0972)">0.5</text>
<text font-size="100" fill="#111" stroke="#111" stroke-width="2.17" transform="matrix(0.1916 0.0000 0.0000 0.1958 282.7336 653.2042)">0.0</text>
<text font-size="100" fill="#111" stroke="#111" stroke-width="2.17" transform="matrix(0.0000 -0.1949 0.1918 0.0000 258.1082 636.2588)">Relative released</text>
<text font-size="100" fill="#111" stroke="#111" stroke-width="2.22" transform="matrix(0.0000 -0.1923 0.1860 0.0000 277.3935 639.3540)"><tspan font-family="Liberation Serif">&#946;</tspan>-hexosaminidase</text>
<text font-size="100" fill="#111" stroke="#111" stroke-width="1.08" transform="matrix(0.1951 0.0000 0.0000 0.1764 326.2341 552.3236)">n.s</text>
<text font-size="100" fill="#111" stroke="#111" stroke-width="2.15" transform="matrix(0.1971 0.0000 0.0000 0.1943 393.6057 482.7057)">*</text>
<text font-size="100" fill="#111" stroke="#111" stroke-width="2.32" transform="matrix(0.1957 0.0000 0.0000 0.1657 253.1087 667.3343)">TNF-<tspan font-family="Liberation Serif">&#945;</tspan></text>
<text font-size="100" fill="#111" stroke="#111" stroke-width="0.44" transform="matrix(0.2240 0.0000 0.0000 0.2286 337.6040 668.0571)">-</text>
<text font-size="100" fill="#111" stroke="#111" stroke-width="1.03" transform="matrix(0.2000 0.0000 0.0000 0.1878 393.4000 668.2898)">+</text>
<text font-size="100" fill="#111" stroke="#111" stroke-width="0.00" transform="matrix(0.2185 0.0000 0.0000 0.1653 446.8815 467.1000)">f</text>
<text font-size="100" fill="#1a1a1a" stroke="#1a1a1a" stroke-width="0.00" transform="matrix(0.2000 0.0000 0.0000 0.1726 574.2000 470.1274)">Media</text>
<text font-size="100" fill="#111" stroke="#111" stroke-width="2.16" transform="matrix(0.1923 0.0000 0.0000 0.1972 511.3385 490.6028)">2.0</text>
<g transform="matrix(0.1920 0.0000 0.0000 0.2057 510.8800 532.2943)"><text font-size="100" fill="#111" stroke="#111" stroke-width="2.11">1.5</text><path fill="#fff" d="M3.62 -17.47H25.15V9.00H3.62ZM33.98 -17.47H54.73V9.00H33.98Z"/></g>
<g transform="matrix(0.1920 0.0000 0.0000 0.1979 510.8800 571.1521)"><text font-size="100" fill="#111" stroke="#111" stroke-width="2.15">1.0</text><path fill="#fff" d="M3.62 -17.47H25.15V9.00H3.62ZM33.98 -17.47H54.73V9.00H33.98Z"/></g>
<text font-size="100" fill="#111" stroke="#111" stroke-width="2.19" transform="matrix(0.1870 0.0000 0.0000 0.1965 512.0519 613.5535)">0.5</text>
<text font-size="100" fill="#111" stroke="#111" stroke-width="2.16" transform="matrix(0.1939 0.0000 0.0000 0.1958 510.9244 648.4042)">0.0</text>
<text font-size="100" fill="#111" stroke="#111" stroke-width="2.20" transform="matrix(0.0000 -0.1939 0.1877 0.0000 475.4123 636.2515)">Relative released</text>
<text font-size="100" fill="#111" stroke="#111" stroke-width="2.22" transform="matrix(0.0000 -0.1912 0.1871 0.0000 494.7710 638.9472)"><tspan font-family="Liberation Serif">&#946;</tspan>-hexosaminidase</text>
<text font-size="100" fill="#111" stroke="#111" stroke-width="1.00" transform="matrix(0.2057 0.0000 0.0000 0.1927 557.3602 537.8073)">n.s</text>
<text font-size="100" fill="#111" stroke="#111" stroke-width="2.19" transform="matrix(0.1892 0.0000 0.0000 0.1943 620.4216 504.0057)">**</text>
<text font-size="100" fill="#111" stroke="#111" stroke-width="2.36" transform="matrix(0.1993 0.0000 0.0000 0.1571 489.7014 666.7429)">TNF-<tspan font-family="Liberation Serif">&#945;</tspan></text>
<text font-size="100" fill="#111" stroke="#111" stroke-width="0.44" transform="matrix(0.2240 0.0000 0.0000 0.2286 565.7040 668.0571)">-</text>
<text font-size="100" fill="#111" stroke="#111" stroke-width="1.03" transform="matrix(0.2000 0.0000 0.0000 0.1878 628.5000 668.2898)">+</text>
</svg>
</body></html>
